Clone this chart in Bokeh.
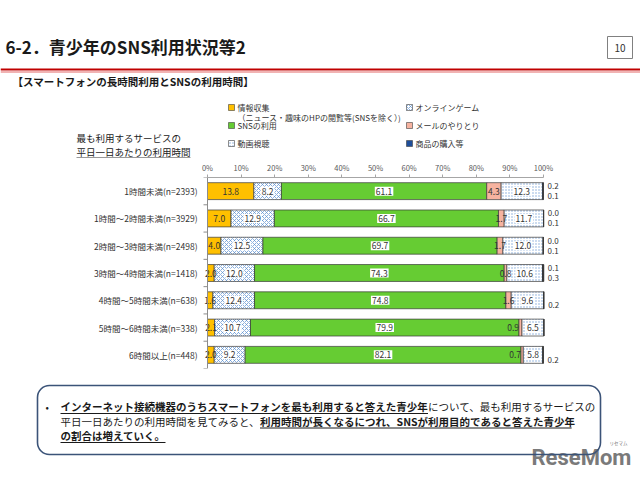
import numpy as np
from bokeh.plotting import figure
from bokeh.models import Range1d, FactorRange, FixedTicker, PrintfTickFormatter, BoxAnnotation, ColumnDataSource, Span
from bokeh.layouts import column
from bokeh.core.properties import value
from bokeh.embed import file_html
from bokeh.resources import INLINE

FONT = "Noto Sans CJK JP"

# ---------------- data ----------------
rows = ["1時間未満(n=2393)", "1時間～2時間未満(n=3929)", "2時間～3時間未満(n=2498)",
        "3時間～4時間未満(n=1418)", "4時間～5時間未満(n=638)", "5時間～6時間未満(n=338)",
        "6時間以上(n=448)"]
info = [13.8, 7.0, 4.0, 2.0, 1.6, 2.1, 2.0]        # 情報収集
game = [8.2, 12.9, 12.5, 12.0, 12.4, 10.7, 9.2]    # オンラインゲーム
sns = [61.1, 66.7, 69.7, 74.3, 74.8, 79.9, 82.1]   # SNSの利用
mail = [4.3, 1.7, 1.7, 0.8, 1.6, 0.9, 0.7]         # メールのやりとり
video = [12.3, 11.7, 12.0, 10.6, 9.6, 6.5, 5.8]    # 動画視聴
goods = [0.2, 0.0, 0.0, 0.1, None, None, None]     # 商品の購入等
other = [0.1, 0.1, 0.1, 0.3, 0.2, None, 0.2]       # その他（凡例なし）
series_names = ["情報収集", "オンラインゲーム", "SNSの利用", "メールのやりとり", "動画視聴", "商品の購入等"]
tick_values = [0, 10, 20, 30, 40, 50, 60, 70, 80, 90, 100]

title = "6-2．青少年のSNS利用状況等2"
subtitle = "【スマートフォンの長時間利用とSNSの利用時間】"
left_note = ["最も利用するサービスの", "平日一日あたりの利用時間"]
legend_sub = "（ニュース・趣味のHPの閲覧等(SNSを除く）)"

styles = [
    dict(fill_color="#FFC000"),
    dict(fill_color="white", hatch_pattern="diagonal_cross", hatch_color="#5B8FD0", hatch_scale=4, hatch_weight=0.7),
    dict(fill_color="#66CC33"),
    dict(fill_color="#F6B3A0"),
    dict(fill_color="white", hatch_pattern="dot", hatch_color="#7FA8DA", hatch_scale=3, hatch_weight=1),
    dict(fill_color="#1F4E9A"),
    dict(fill_color="#222222"),
]
boxed = [False, True, True, False, True]


def tw(s, fs):
    return sum(fs * (0.56 if ord(c) < 0x2E80 else 1.0) for c in s)


def blank(h):
    f = figure(width=640, height=h, x_range=Range1d(0, 640), y_range=Range1d(h, 0),
               x_axis_location=None, y_axis_location=None, output_backend="svg",
               toolbar_location=None, min_border=0)
    f.grid.visible = False
    f.outline_line_color = None
    return f


# ---------------- top part ----------------
H1 = 158
top = blank(H1)
top.text(x=[5], y=[46], text=[title], text_font=value(FONT), text_font_size="17px",
         text_font_style="bold", text_baseline="middle", text_color="#1a1a1a")
top.line(x=[0, 640], y=[69, 69], line_color="#C00000", line_width=2)
top.line(x=[0, 640], y=[71.5, 71.5], line_color="#EC9A9A", line_width=1.5)
top.rect(x=[619.5], y=[47], width=25, height=22, fill_color="white", line_color="#808080", line_width=1)
top.text(x=[619.5], y=[47], text=["10"], text_font=value(FONT), text_font_size="10px",
         text_align="center", text_baseline="middle", text_color="#333333")
top.text(x=[12], y=[81], text=[subtitle], text_font=value(FONT), text_font_size="10.5px",
         text_font_style="bold", text_baseline="middle", text_color="#1a1a1a")
# left note
top.text(x=[76, 76], y=[137, 151], text=left_note, text_font=value(FONT), text_font_size="9.5px",
         text_baseline="middle", text_color="#222222")
top.line(x=[76, 76 + tw(left_note[1], 9.5)], y=[157.5, 157.5], line_color="#333333", line_width=1)

# legend (two columns, row-wise order)
lx = [231, 409, 231, 409, 231, 409]
ly = [107, 107, 125, 125, 143, 143]
for i, name in enumerate(series_names):
    top.rect(x=[lx[i]], y=[ly[i]], width=6, height=6, line_color="#404040", line_width=0.6,
             **styles[i])
    top.text(x=[lx[i] + 6], y=[ly[i]], text=[name], text_font=value(FONT), text_font_size="8px",
             text_baseline="middle", text_color="#333333")
top.text(x=[237], y=[117], text=[legend_sub], text_font=value(FONT), text_font_size="8px",
         text_baseline="middle", text_color="#333333")

# ---------------- chart ----------------
PX0, PX100 = 207, 543
ppu = (PX100 - PX0) / 100
mid = figure(width=640, height=214, y_range=FactorRange(factors=rows[::-1]),
             x_range=Range1d(-PX0 / ppu, (640 - PX0) / ppu),
             x_axis_location="above", y_axis_location=None, output_backend="svg", toolbar_location=None,
             min_border_left=0, min_border_right=0, min_border_top=19, min_border_bottom=4)
mid.grid.visible = False
mid.outline_line_color = None

series = [info, game, sns, mail, video, goods, other]
vals = [np.array([0.0 if v is None else v for v in s]) for s in series]
left = np.zeros(len(rows))
lefts, rights = [], []
for v in vals:
    lefts.append(left.copy())
    left = left + v
    rights.append(left.copy())

for i, v in enumerate(vals):
    mid.hbar(y=rows, left=lefts[i], right=rights[i], height=0.62, line_color="#3a3a3a",
             line_width=0.7, **styles[i])

for i in range(5):
    xs, aligns = [], []
    for j in range(len(rows)):
        nxt = vals[i + 1][j] if i + 1 < len(vals) else 99
        if i == 3 and vals[i][j] < 1.0 and nxt < 8:
            xs.append(lefts[i][j]); aligns.append("right")
        else:
            xs.append((lefts[i][j] + rights[i][j]) / 2); aligns.append("center")
    src = ColumnDataSource(dict(x=xs, y=rows, t=[f"{x:.1f}" for x in series[i]], a=aligns))
    kw = dict(background_fill_color="white", padding=1) if boxed[i] else {}
    mid.text(x="x", y="y", text="t", source=src, text_font=value(FONT), text_font_size="8.5px",
             text_align="a", text_baseline="middle", text_color="#333333", **kw)

ends = rights[-1]
for s, off in ((goods, -5), (other, 5)):
    xs, ys, ts = [], [], []
    for j, v in enumerate(s):
        if v is not None:
            xs.append(ends[j]); ys.append(rows[j]); ts.append(f"{v:.1f}")
    mid.text(x=xs, y=ys, text=ts, x_offset=4, y_offset=off, text_font=value(FONT),
             text_font_size="8px", text_baseline="middle", text_color="#333333")

# category labels (left of the value axis)
mid.text(x=[0] * len(rows), y=rows, text=rows, x_offset=-10, text_align="right", text_baseline="middle",
         text_font=value(FONT), text_font_size="8.5px", text_color="#333333")
mid.add_layout(Span(location=0, dimension="height", line_color="#8C8C8C", line_width=1))
# category boundary ticks
bounds_y = [(r, -0.5) for r in rows] + [(rows[0], 0.5)]
mid.segment(x0=[0] * len(bounds_y), x1=[-4 / ppu] * len(bounds_y), y0=bounds_y, y1=bounds_y,
            line_color="#8C8C8C", line_width=1)

xa = mid.xaxis[0]
xa.ticker = FixedTicker(ticks=tick_values)
xa.formatter = PrintfTickFormatter(format="%d%%")
xa.bounds = (0, 100)
xa.axis_line_color = "#A6A6A6"
xa.major_tick_line_color = "#A6A6A6"
xa.major_tick_out = 3
xa.major_tick_in = 0
xa.minor_tick_line_color = None
xa.major_label_standoff = 2
xa.major_label_text_font = FONT
xa.major_label_text_font_size = "7.5px"
xa.major_label_text_color = "#595959"

# ---------------- bottom part ----------------
H3 = 108
bot = blank(H3)
bot.add_layout(BoxAnnotation(left=37, right=600, top=13, bottom=82, fill_color=None, fill_alpha=0,
                             line_color="#3B5378", line_alpha=1.0, line_width=1.6, border_radius=12))
FS = 10.5
l1b = "インターネット接続機器のうちスマートフォンを最も利用すると答えた青少年"
l1n = "について、最も利用するサービスの"
l2n = "平日一日あたりの利用時間を見てみると、"
l2b = "利用時間が長くなるにつれ、SNSが利用目的であると答えた青少年"
l3b = "の割合は増えていく。"
x0 = 60
y1, y2, y3 = 34, 48.5, 63
segs = [
    (x0, y1, l1b, True),
    (x0 + tw(l1b, FS), y1, l1n, False),
    (x0, y2, l2n, False),
    (x0 + tw(l2n, FS), y2, l2b, True),
    (x0, y3, l3b, True),
]
bot.text(x=[45], y=[y1], text=["•"], text_font=value(FONT), text_font_size="10px",
         text_baseline="middle", text_color="#1a1a1a")
for (sx, sy, s, bold) in segs:
    bot.text(x=[sx], y=[sy], text=[s], text_font=value(FONT), text_font_size=f"{FS}px",
             text_font_style="bold" if bold else "normal", text_baseline="middle", text_color="#1a1a1a")
    if bold:
        bot.line(x=[sx, sx + tw(s, FS)], y=[sy + 7, sy + 7], line_color="#1a1a1a", line_width=1)

bot.text(x=[530], y=[85], text=["ReseMom"], text_font=value("Roboto"),
         text_font_size="22px", text_font_style="bold", text_baseline="middle",
         text_color="#7a7a7a", background_fill_color="white", padding=1)
bot.text(x=[609], y=[70], text=["リセマム"], text_font=value(FONT), text_font_size="4.5px",
         text_baseline="middle", text_color="#7a7a7a")

layout = column(top, mid, bot, spacing=0)
open("out.html", "w").write(file_html(layout, INLINE))
